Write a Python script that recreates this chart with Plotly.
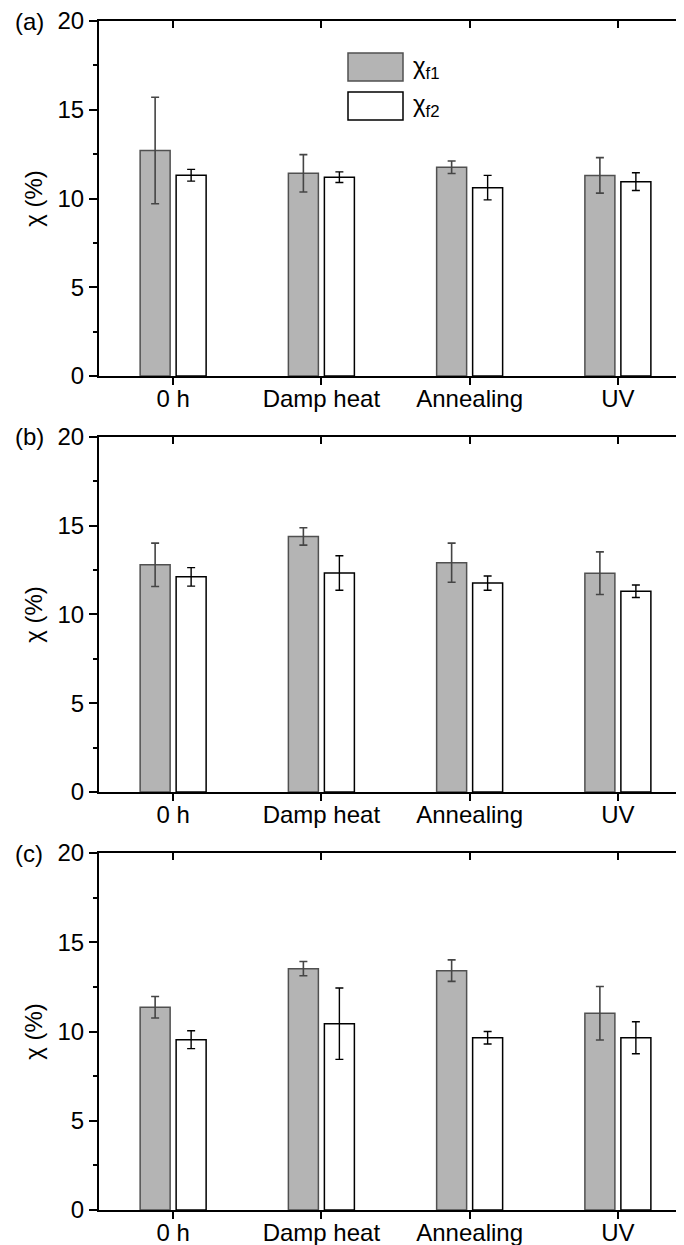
import plotly.graph_objects as go

categories = ["0 h", "Damp heat", "Annealing", "UV"]
series_names = ["χ<sub>f1</sub>", "χ<sub>f2</sub>"]
panel_labels = ["(a)", "(b)", "(c)"]

# panel (a)
a_f1 = [12.7, 11.42, 11.76, 11.3]
a_f1_err = [3.0, 1.05, 0.35, 1.0]
a_f2 = [11.31, 11.2, 10.61, 10.95]
a_f2_err = [0.33, 0.3, 0.69, 0.5]
# panel (b)
b_f1 = [12.8, 14.4, 12.92, 12.33]
b_f1_err = [1.22, 0.49, 1.1, 1.2]
b_f2 = [12.12, 12.34, 11.77, 11.31]
b_f2_err = [0.52, 0.97, 0.4, 0.35]
# panel (c)
c_f1 = [11.36, 13.52, 13.41, 11.02]
c_f1_err = [0.6, 0.4, 0.6, 1.5]
c_f2 = [9.54, 10.44, 9.65, 9.65]
c_f2_err = [0.5, 2.0, 0.35, 0.9]

y_ticks = [0, 5, 10, 15, 20]

panels = [
    (a_f1, a_f1_err, a_f2, a_f2_err),
    (b_f1, b_f1_err, b_f2, b_f2_err),
    (c_f1, c_f1_err, c_f2, c_f2_err),
]

FONT = "Arial, Liberation Sans, sans-serif"
FS = 24
GRAY = "#b4b4b4"
GRAY_EDGE = "#505050"
XR = [-0.5, 3.5]
PW = 593.0
domains = [[0.70143, 1.0], [0.35156, 0.65013], [0.0, 0.30025]]

fig = go.Figure()
layout = dict(
    width=684, height=1245,
    margin=dict(l=91, r=0, t=13, b=43, autoexpand=False),
    plot_bgcolor="white", paper_bgcolor="white",
    barmode="overlay", showlegend=False,
    font=dict(family=FONT, size=FS, color="black"),
)
annotations = []
shapes = []

bw = 30 / 148.25
off1 = -33 / 148.25
off2 = 3 / 148.25
for i, (f1, e1, f2, e2) in enumerate(panels):
    n = i + 1
    xb = f"x{n}" if n > 1 else "x"
    yl = f"y{n}" if n > 1 else "y"
    xt = f"x{n+3}"
    yr = f"y{n+3}"
    fig.add_trace(go.Bar(
        x=categories, y=f1, width=bw, offset=off1,
        marker=dict(color=GRAY, line=dict(color=GRAY_EDGE, width=1.5)),
        error_y=dict(type="data", array=e1, color="#454545", thickness=1.6, width=4),
        xaxis=xb, yaxis=yl, name="f1", hoverinfo="skip"))
    fig.add_trace(go.Bar(
        x=categories, y=f2, width=bw, offset=off2,
        marker=dict(color="white", line=dict(color="black", width=1.5)),
        error_y=dict(type="data", array=e2, color="black", thickness=1.4, width=4),
        xaxis=xb, yaxis=yl, name="f2", hoverinfo="skip"))
    # invisible trace to realise the top / right frame axes
    fig.add_trace(go.Scatter(x=categories, y=[None] * len(categories), mode="markers",
                             xaxis=xt, yaxis=yr, showlegend=False, hoverinfo="skip"))

    kx = "xaxis" if n == 1 else f"xaxis{n}"
    ky = "yaxis" if n == 1 else f"yaxis{n}"
    layout[kx] = dict(
        type="category", categoryorder="array", categoryarray=categories,
        range=XR, anchor=yl, domain=[0, 1], automargin=False,
        showline=True, linecolor="black", linewidth=2,
        ticks="outside", ticklen=7, tickwidth=2, tickcolor="black",
        ticklabelstandoff=-7, ticklabeloverflow="allow",
        showgrid=False, zeroline=False,
        tickfont=dict(family=FONT, size=FS, color="black"),
    )
    layout[ky] = dict(
        range=[0, 20], domain=domains[i], anchor=xb, automargin=False,
        tickvals=y_ticks, ticktext=[str(v) for v in y_ticks],
        showline=True, linecolor="black", linewidth=2,
        ticks="outside", ticklen=8, tickwidth=2, tickcolor="black",
        ticklabeloverflow="allow",
        minor=dict(tickvals=[2.5, 7.5, 12.5, 17.5], ticks="outside", ticklen=4,
                   tickwidth=1.5, tickcolor="black"),
        showgrid=False, zeroline=False,
        title=dict(text="χ (%)", standoff=8, font=dict(family=FONT, size=FS)),
        tickfont=dict(family=FONT, size=FS, color="black"),
    )
    layout[f"xaxis{n+3}"] = dict(
        type="category", categoryorder="array", categoryarray=categories,
        range=XR, overlaying=xb, anchor=yl, side="top", automargin=False,
        showline=True, linecolor="black", linewidth=2,
        ticks="inside", ticklen=7, tickwidth=2, tickcolor="black",
        showticklabels=False, showgrid=False, zeroline=False,
    )
    layout[f"yaxis{n+3}"] = dict(
        range=[0, 20], overlaying=yl, anchor=xb, side="right", automargin=False,
        tickvals=y_ticks, showline=True, linecolor="black", linewidth=2,
        ticks="inside", ticklen=10, tickwidth=2, tickcolor="black",
        showticklabels=False, showgrid=False, zeroline=False,
    )
    annotations.append(dict(
        text=panel_labels[i], xref="paper", yref="paper",
        x=-86 / PW, y=domains[i][1], xanchor="left", yanchor="middle",
        showarrow=False, font=dict(family=FONT, size=FS, color="black")))

# legend drawn inside panel (a)
lx0 = (348 - 99) / PW
lx1 = (403 - 99) / PW
ltx = (411 - 99) / PW
leg = [(GRAY, GRAY_EDGE, 0.831, 0.9099, 0.870), ("white", "black", 0.721, 0.800, 0.7606)]
for (fill, edge, y0, y1, yc), name in zip(leg, series_names):
    shapes.append(dict(type="rect", xref="x domain", yref="y domain",
                       x0=lx0, x1=lx1, y0=y0, y1=y1,
                       fillcolor=fill, line=dict(color=edge, width=1.5)))
    annotations.append(dict(text=name, xref="x domain", yref="y domain",
                            x=ltx, y=yc, xanchor="left", yanchor="middle",
                            showarrow=False, font=dict(family=FONT, size=FS, color="black")))

layout["annotations"] = annotations
layout["shapes"] = shapes
fig.update_layout(**layout)
fig.write_html("out.html")
